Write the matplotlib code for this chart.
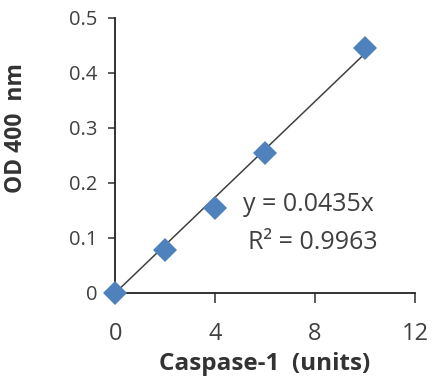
import numpy as np
import matplotlib.pyplot as plt

# ----
# DATA
# ----
caspase_units = [0, 2, 4, 6, 10]
od_400 = [0.0, 0.079, 0.155, 0.255, 0.445]
slope = 0.0435
r_squared = 0.9963
x_ticks = [0, 4, 8, 12]
y_ticks = [0, 0.1, 0.2, 0.3, 0.4, 0.5]
y_tick_labels = ['0', '0.1', '0.2', '0.3', '0.4', '0.5']

plt.rcParams['font.family'] = ['Open Sans', 'DejaVu Sans']

fig = plt.figure(figsize=(4.33, 3.8), dpi=100)
ax = fig.add_axes([0.266, 0.229, 0.692, 0.724])

# trendline through origin
x_fit = np.array([0, max(caspase_units)])
ax.plot(x_fit, slope*x_fit, color='#404040', lw=1.1, zorder=2)
ax.plot(caspase_units, od_400, 'D', color='#4F81BD', markersize=12,
        markeredgewidth=0, zorder=3, clip_on=False)

# equation label
ax.text(5.1, 0.16, 'y = {}x'.format(slope), fontsize=18, color='#404040',
        va='center', ha='left')
ax.text(5.3, 0.091, 'R\u00b2 = {}'.format(r_squared), fontsize=18, color='#404040',
        va='center', ha='left')

ax.set_xlim(0, 12)
ax.set_ylim(0, 0.5)
ax.set_xticks(x_ticks)
ax.set_yticks(y_ticks)
ax.set_yticklabels(y_tick_labels)
ax.tick_params(axis='x', labelsize=17, direction='out', length=7, width=1.2,
               colors='#404040', pad=14)
ax.tick_params(axis='y', labelsize=14.5, direction='out', length=5, width=1.2,
               colors='#404040', pad=8)
for s in ['top', 'right']:
    ax.spines[s].set_visible(False)
for s in ['left', 'bottom']:
    ax.spines[s].set_linewidth(1.3)
    ax.spines[s].set_color('#222222')

ax.set_xlabel('Caspase-1  (units)', fontsize=17.5, fontweight='bold', color='#333333')
ax.xaxis.set_label_coords(0.5, -0.258)
ax.xaxis.label.set_va('center')
ax.set_ylabel('OD 400  nm', fontsize=16.5, fontweight='bold', color='#333333')
ax.yaxis.set_label_coords(-0.33, 0.6)
ax.yaxis.label.set_va('center')

fig.savefig('out.png', dpi=100)
